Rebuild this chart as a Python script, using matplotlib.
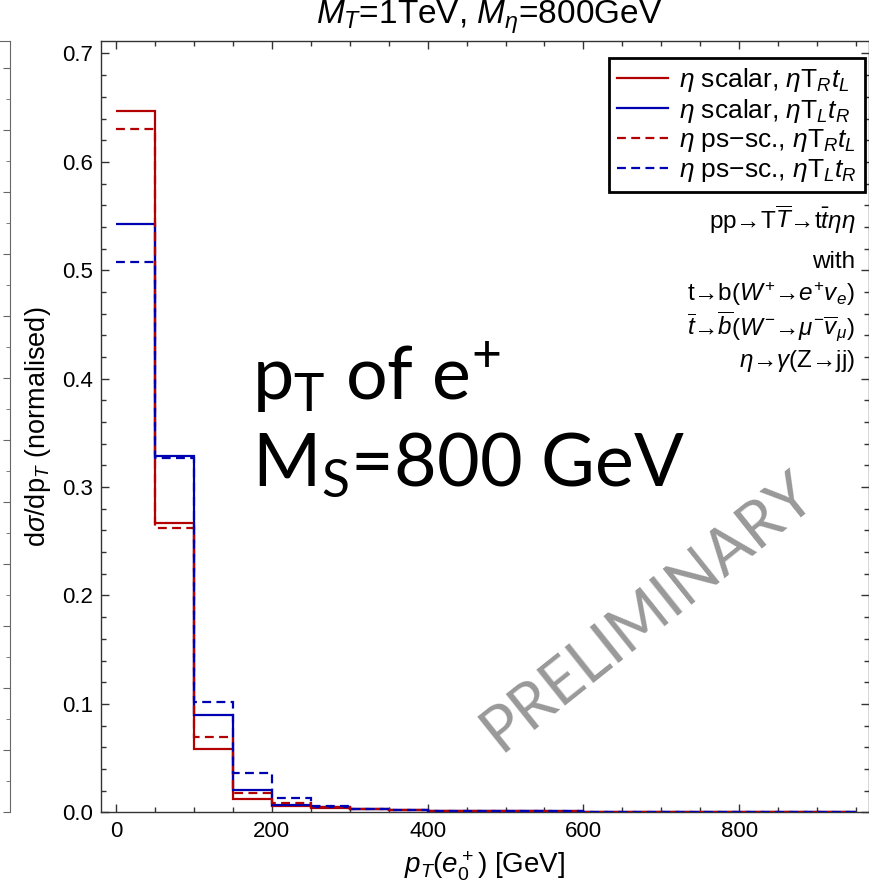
import numpy as np
import matplotlib
matplotlib.use("Agg")
import matplotlib.pyplot as plt
from matplotlib.ticker import MultipleLocator

plt.rcParams['font.family'] = ['Liberation Sans', 'DejaVu Sans']
plt.rcParams['mathtext.fontset'] = 'custom'
plt.rcParams['mathtext.rm'] = 'Liberation Sans'
plt.rcParams['mathtext.it'] = 'Liberation Sans:italic'
plt.rcParams['mathtext.bf'] = 'Liberation Sans:bold'
plt.rcParams['mathtext.sf'] = 'Lato'

# bin edges in GeV (50 GeV bins)
edges = np.arange(0, 1000, 50)

# normalised pT(e+) distributions
scalar_RL = [0.647, 0.2666, 0.058, 0.0123, 0.0058, 0.0040, 0.0026, 0.0018, 0.0013, 0.0011,
             0.0009, 0.0007, 0.0006, 0.0005, 0.0004, 0.0004, 0.0003, 0.0003, 0.0002]
scalar_LR = [0.5424, 0.329, 0.090, 0.021, 0.0067, 0.0050, 0.0030, 0.0020, 0.0015, 0.0012,
             0.0010, 0.0008, 0.0006, 0.0005, 0.0005, 0.0004, 0.0003, 0.0003, 0.0002]
pseudo_RL = [0.630, 0.262, 0.0695, 0.0175, 0.0089, 0.0047, 0.0028, 0.0019, 0.0014, 0.0011,
             0.0009, 0.0008, 0.0006, 0.0005, 0.0004, 0.0004, 0.0003, 0.0003, 0.0002]
pseudo_LR = [0.508, 0.3266, 0.1015, 0.0365, 0.0135, 0.0058, 0.0032, 0.0022, 0.0016, 0.0012,
             0.0010, 0.0008, 0.0007, 0.0006, 0.0005, 0.0004, 0.0003, 0.0003, 0.0002]

labels = [r"$\eta$ scalar, $\eta\mathrm{T}_R t_L$",
          r"$\eta$ scalar, $\eta\mathrm{T}_L t_R$",
          r"$\eta$ ps$-$sc., $\eta\mathrm{T}_R t_L$",
          r"$\eta$ ps$-$sc., $\eta\mathrm{T}_L t_R$"]

process_lines = [r"pp→T$\overline{T}$→t$\bar{t}\eta\eta$",
                 "with",
                 r"t→b($W^{+}$→$e^{+}v_e$)",
                 r"$\overline{t}$→$\overline{b}$($W^{-}$→$\mu^{-}\overline{v}_\mu$)",
                 r"$\eta$→$\gamma$(Z→jj)"]

red = '#b30000'
blue = '#0000b3'
W, H = 869, 891

fig = plt.figure(figsize=(W / 100, H / 100), dpi=100)
ax = fig.add_axes([101 / W, 1 - 812.3 / H, 768 / W, 771.3 / H])

dash = (0, (4, 2.4))
ax.stairs(scalar_RL, edges, baseline=None, color=red, lw=1.6, label=labels[0], zorder=3)
ax.stairs(scalar_LR, edges, baseline=None, color=blue, lw=1.6, label=labels[1], zorder=3)
ax.stairs(pseudo_RL, edges, baseline=None, color=red, lw=1.6, ls=dash, label=labels[2], zorder=4)
ax.stairs(pseudo_LR, edges, baseline=None, color=blue, lw=1.6, ls=dash, label=labels[3], zorder=4)

ax.set_xlim(-19.3, 966.6)
ax.set_ylim(0, 0.7115)
ax.xaxis.set_major_locator(MultipleLocator(200))
ax.xaxis.set_minor_locator(MultipleLocator(50))
ax.yaxis.set_major_locator(MultipleLocator(0.1))
ax.yaxis.set_minor_locator(MultipleLocator(0.02))
ax.yaxis.set_major_formatter(matplotlib.ticker.FormatStrFormatter('%.1f'))
ax.tick_params(which='both', direction='in', top=True, right=True, width=1, color='#333333',
               labelsize=16, pad=6)
ax.tick_params(which='major', length=6)
ax.tick_params(which='minor', length=3.5)
for s in ax.spines.values():
    s.set_color('#333333')
    s.set_linewidth(1.0)

ax.set_xlabel(r"$p_T(e_0^+)$ [GeV]", fontsize=20, labelpad=6)
ax.set_ylabel(r"d$\sigma$/dp$_T$ (normalised)", fontsize=19.5, labelpad=6)
fig.text(489 / W, 1 - 24 / H, r"$M_T$=1TeV, $M_\eta$=800GeV", fontsize=24,
         ha='center', va='baseline')

leg = ax.legend(loc='upper right', bbox_to_anchor=((865 - 101) / 768, (812.3 - 58) / 771.3),
                borderaxespad=0, fontsize=19, handlelength=1.9, handletextpad=0.45,
                labelspacing=0.1, fancybox=False, framealpha=1, borderpad=0.3)
leg.get_frame().set_edgecolor('black')
leg.get_frame().set_linewidth(2.0)

for txt, yb in zip(process_lines, [229, 268, 301, 335, 367]):
    fig.text(855 / W, 1 - yb / H, txt, fontsize=17.5, ha='right', va='baseline')

# big annotation
fig.text(252 / W, 1 - 400 / H, r"p$_\mathsf{T}$ of e$^\mathsf{+}$", family='Lato',
         fontsize=53, va='baseline', ha='left')
fig.text(252 / W, 1 - 485 / H, r"M$_\mathsf{S}$=800 GeV", family='Lato',
         fontsize=53, va='baseline', ha='left')

# watermark
fig.text(648 / W, 1 - 612 / H, "PRELIMINARY", family='Lato',
         fontsize=45, color='#999999', rotation=38.6, rotation_mode='anchor',
         ha='center', va='center')

# edge of the neighbouring panel
lax = fig.add_axes([-20 / W, 1 - 812.3 / H, 30 / W, 771.3 / H])
lax.set_ylim(0, 771.3)
lax.spines['left'].set_visible(False)
lax.spines['bottom'].set_visible(False)
for s in ['top', 'right']:
    lax.spines[s].set_color('#666666')
lax.set_xticks([])
lax.yaxis.tick_right()
lax.yaxis.set_major_locator(MultipleLocator(62))
lax.yaxis.set_minor_locator(MultipleLocator(31))
lax.tick_params(which='both', direction='in', labelright=False, color='#666666')
lax.tick_params(which='major', length=5)
lax.tick_params(which='minor', length=3)

fig.savefig("out.png", dpi=100)
